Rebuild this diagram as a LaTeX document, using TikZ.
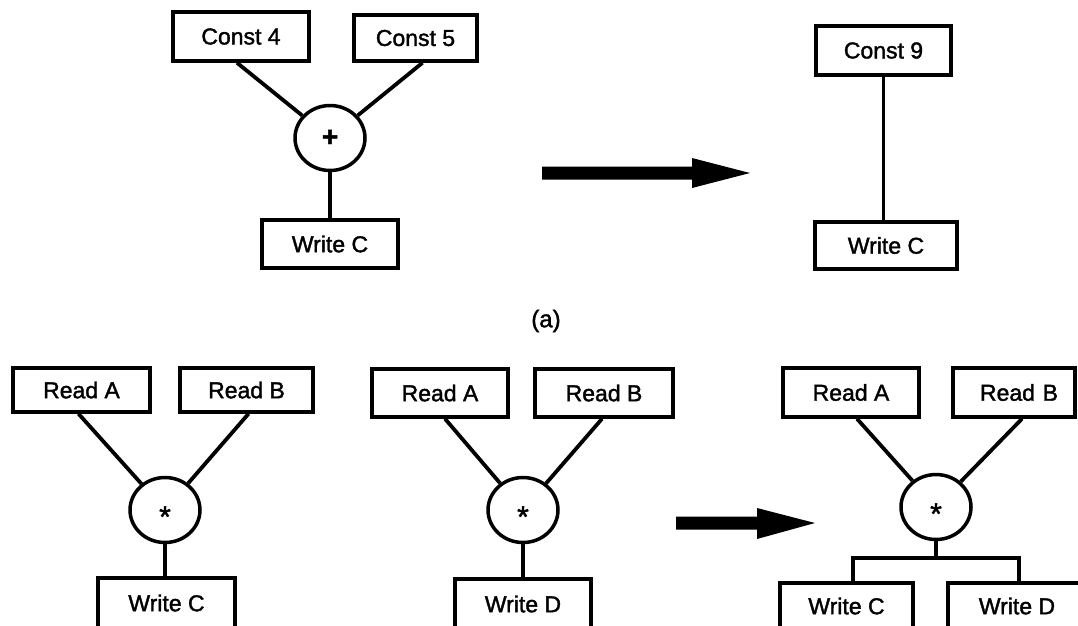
\documentclass[tikz,border=0pt]{standalone}
\usepackage{fontspec}
\setmainfont[FakeBold=1.6]{Liberation Sans}
\usetikzlibrary{shapes.geometric}
\begin{document}
\begin{tikzpicture}[x=1pt,y=-1pt,
  every node/.style={font=\fontsize{23}{27}\selectfont},
  opbox/.style={draw, line width=3.5pt, rectangle, inner sep=0pt},
  opcirc/.style={draw, line width=3.5pt, ellipse, inner sep=0pt, minimum width=70pt, minimum height=65pt},
  link/.style={line width=3.8pt},
  bigarrow/.style={fill=black}]
\clip (0,0) rectangle (1078,625);
\fill[white] (0,0) rectangle (1078,625);
% ---------- (a) ----------
\node[opbox, minimum width=136pt, minimum height=49pt] (c4) at (241,36.5) {Const 4};
\node[opbox, minimum width=123pt, minimum height=46pt] (c5) at (415.5,38) {Const 5};
\node[opcirc] (p1) at (330,138) {\fontsize{28}{30}\selectfont\bfseries +};
\node[opbox, minimum width=136pt, minimum height=48pt] (wc1) at (330,244) {Write C};
\draw[link] ([xshift=-4pt]c4.south) -- (p1);
\draw[link] ([xshift=7pt]c5.south) -- (p1);
\draw[link] (p1) -- (wc1);
\coordinate (a1s) at (542,173);
\fill[bigarrow] (a1s) ++(0,-6.5) -- ++(150,0) -- ++(0,-8.5) -- (750,173) -- (692,188) -- (692,179.5) -- (542,179.5) -- cycle;
\node[opbox, minimum width=135pt, minimum height=49pt] (c9) at (883.5,50.5) {Const 9};
\node[opbox, minimum width=142pt, minimum height=47pt] (wc2) at (886,245.5) {Write C};
\draw[link] (c9.south) -- (c9.south |- wc2.north);
\node (lab) at (546,321) {\fontsize{24}{28}\selectfont (a)};
% ---------- bottom left ----------
\node[opbox, minimum width=137pt, minimum height=44pt] (ra1) at (81.5,390) {Read A};
\node[opbox, minimum width=133pt, minimum height=44pt] (rb1) at (246.5,390) {Read B};
\node[opcirc] (m1) at (165,510) {\fontsize{30}{30}\selectfont\raisebox{-17pt}[0pt][0pt]{*}};
\node[opbox, minimum width=137pt, minimum height=50pt] (wc3) at (166.5,603) {Write C};
\draw[link] ([xshift=-3pt]ra1.south) -- (m1);
\draw[link] ([xshift=2pt]rb1.south) -- (m1);
\draw[link] (m1) -- (m1 |- wc3.north);
% ---------- bottom middle ----------
\node[opbox, minimum width=136pt, minimum height=48pt] (ra2) at (440,393) {Read A};
\node[opbox, minimum width=138pt, minimum height=48pt] (rb2) at (604,393) {Read B};
\node[opcirc] (m2) at (523,510) {\fontsize{30}{30}\selectfont\raisebox{-17pt}[0pt][0pt]{*}};
\node[opbox, minimum width=136pt, minimum height=50pt] (wd1) at (523,604) {Write D};
\draw[link] ([xshift=5pt]ra2.south) -- (m2);
\draw[link] ([xshift=-2pt]rb2.south) -- (m2);
\draw[link] (m2) -- (m2 |- wd1.north);
\coordinate (a2s) at (676,523);
\fill[bigarrow] (a2s) ++(0,-6.5) -- (757,516.5) -- (757,508) -- (815,523) -- (757,539) -- (757,529.5) -- (676,529.5) -- cycle;
% ---------- bottom right ----------
\node[opbox, minimum width=136pt, minimum height=49pt] (ra3) at (851,392.5) {Read A};
\node[opbox, minimum width=122pt, minimum height=49pt, text width=122pt, align=center] (rb3) at (1014,392.5) {\hspace*{10pt}Read B};
\node[opcirc] (m3) at (936,507) {\fontsize{30}{30}\selectfont\raisebox{-17pt}[0pt][0pt]{*}};
\node[opbox, minimum width=133pt, minimum height=46pt] (wc4) at (846.5,606) {Write C};
\node[opbox, minimum width=138pt, minimum height=46pt] (wd2) at (1017,606) {Write D};
\coordinate (j) at (936,558);
\draw[link] ([xshift=6pt]ra3.south) -- (m3);
\draw[link] ([xshift=8pt]rb3.south) -- (m3);
\draw[link] (m3) -- (j);
\draw[link] ([xshift=6.5pt]wc4.north) |- (j) -| ([xshift=2pt]wd2.north);
\end{tikzpicture}
\end{document}
